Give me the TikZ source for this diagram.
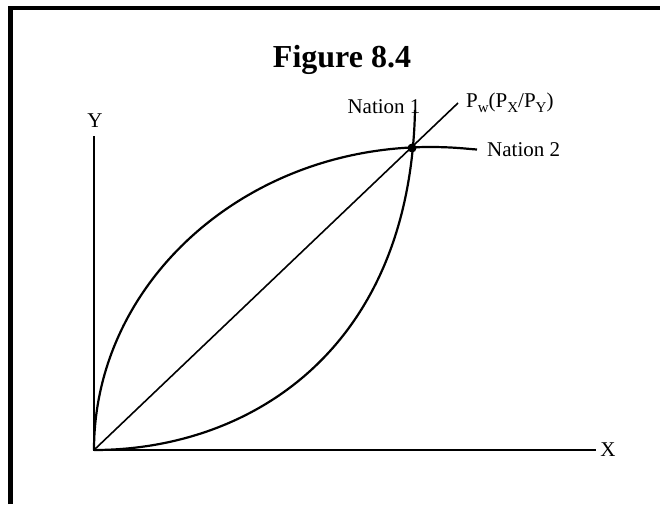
\documentclass[tikz,border=0pt]{standalone}
\usepackage{fontspec}
\setmainfont{Liberation Serif}
\newcommand\subtx[1]{\raisebox{-0.28em}{\fontsize{15}{15}\selectfont #1}}
\begin{document}
\begin{tikzpicture}[x=1pt,y=-1pt,line join=miter,
  axis/.style={line width=2pt},
  curve/.style={line width=2.2pt},
  lbl/.style={inner sep=0pt,font=\fontsize{21}{21}\selectfont}]
\useasboundingbox (0,0) rectangle (660,504);
% open frame (top and left)
\draw[line width=4.4pt] (10.5,504) -- (10.5,8) -- (660,8);
% key points
\coordinate (O) at (94,450);
\coordinate (xend) at (596,450);
\coordinate (yend) at (94,136);
\coordinate (pwend) at (458,103);
\coordinate (E) at (412,148);
% axes
\draw[axis] (yend) -- (O) -- (xend);
% world price line
\draw[line width=1.6pt] (O) -- (pwend);
% Nation 2 (concave)
\draw[curve] (O) .. controls (94,283) and (244,147) .. (430,147)
  .. controls (455,147) and (468,149) .. (477,149.5) coordinate (n2end);
% Nation 1 (convex)
\draw[curve] (O) .. controls (250,450) and (410,350) .. (415,110) coordinate (n1end);
% equilibrium point
\fill (E) circle (4.5pt);
% labels
\node[font=\bfseries\fontsize{32}{32}\selectfont,inner sep=0pt,anchor=base] (title) at (342,67.5) {Figure 8.4};
\node[lbl,anchor=base] (n1lbl) at (384,113) {Nation 1};
\node[lbl,anchor=base west] (n2lbl) at (487,156) {Nation 2};
\node[lbl,anchor=base west] (pwlbl) at (466,107) {P\subtx{w}(P\subtx{X}/P\subtx{Y})};
\node[lbl,anchor=base] (ylbl) at (95,127.5) {Y};
\node[lbl,anchor=base] (xlbl) at (608,456) {X};
\end{tikzpicture}
\end{document}
